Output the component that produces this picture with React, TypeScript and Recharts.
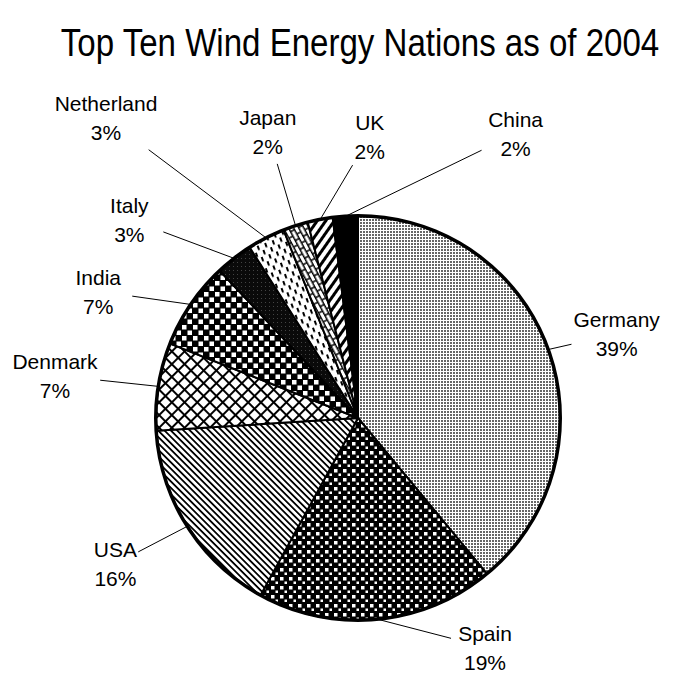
import { PieChart, Pie, Cell } from "recharts";

const countries = ["Germany", "Spain", "USA", "Denmark", "India", "Italy", "Netherland", "Japan", "UK", "China"];
const shares = [39, 19, 16, 7, 7, 3, 3, 2, 2, 2];

// label placement around the pie: polar angle (deg, ccw from 3 o'clock) and distance from centre
const labelAngle = [18, -61, -149, 172, 154, 139, 130, 107.5, 87.6, 61];
const labelRadius = [272, 262, 283, 306, 289, 303, 392, 300, 282, 325];

const patternIds = ["germany", "spain", "usa", "denmark", "india", "italy", "netherland", "japan", "uk", "china"];

const chartData = countries.map((name, i) => ({ name, value: shares[i] }));
const rim = [{ name: "rim", value: 1 }];

const FONT = "'Liberation Sans', Arial, Helvetica, sans-serif";
const RAD = Math.PI / 180;

function renderLabel(props: any) {
  const { cx, cy, midAngle, outerRadius, index, name, value } = props;
  const a = labelAngle[index] * RAD;
  const lx = cx + labelRadius[index] * Math.cos(a);
  const ly = cy - labelRadius[index] * Math.sin(a);
  const sx = cx + outerRadius * Math.cos(-midAngle * RAD);
  const sy = cy + outerRadius * Math.sin(-midAngle * RAD);
  // stop the leader at the edge of the text block
  const hw = name.length * 5.6 + 6;
  const hh = 32;
  const dx = sx - lx;
  const dy = sy - ly;
  const t = Math.min(hw / Math.max(Math.abs(dx), 1e-6), hh / Math.max(Math.abs(dy), 1e-6));
  const ex = lx + dx * t;
  const ey = ly + dy * t;
  return (
    <g>
      <line x1={sx} y1={sy} x2={ex} y2={ey} stroke="#000" strokeWidth={1} />
      <text textAnchor="middle" fontSize={21} fontFamily={FONT} fill="#000">
        <tspan x={lx} y={ly - 6.5}>{name}</tspan>
        <tspan x={lx} y={ly + 22.5}>{value}%</tspan>
      </text>
    </g>
  );
}

export default function App() {
  return (
    <div style={{ position: "absolute", left: 0, top: 0, width: 695, height: 673, background: "#fff" }}>
      <div
        style={{
          position: "absolute",
          left: 0,
          top: 21,
          width: 720,
          textAlign: "center",
          fontFamily: FONT,
          fontSize: 38,
          lineHeight: "44px",
          color: "#000",
          transform: "scaleX(0.87)",
          transformOrigin: "360px 0",
        }}
      >
        Top Ten Wind Energy Nations as of 2004
      </div>
      <PieChart width={695} height={673} margin={{ top: 0, right: 0, bottom: 0, left: 0 }}>
        <defs>
          <pattern id="germany" width={3} height={3} patternUnits="userSpaceOnUse">
            <rect width={3} height={3} fill="#fff" />
            <rect width={2} height={2} fill="#666" />
          </pattern>
          <pattern id="spain" width={9} height={9} patternUnits="userSpaceOnUse">
            <rect width={9} height={9} fill="#000" />
            <rect x={1} y={1} width={3.5} height={3.5} fill="#fff" />
            <rect x={5.5} y={5.5} width={2.5} height={2.5} fill="#fff" />
          </pattern>
          <pattern id="usa" width={4.5} height={4.5} patternUnits="userSpaceOnUse" patternTransform="rotate(-45)">
            <rect width={4.5} height={4.5} fill="#fff" />
            <rect width={1.8} height={4.5} fill="#000" />
          </pattern>
          <pattern id="denmark" width={9} height={9} patternUnits="userSpaceOnUse" patternTransform="rotate(45)">
            <rect width={9} height={9} fill="#fff" />
            <rect width={2} height={9} fill="#000" />
            <rect width={9} height={2} fill="#000" />
          </pattern>
          <pattern id="india" width={11} height={11} patternUnits="userSpaceOnUse">
            <rect width={11} height={11} fill="#000" />
            <rect x={0.5} y={0.5} width={4.5} height={4.5} fill="#fff" />
            <rect x={6} y={6} width={4.5} height={4.5} fill="#fff" />
          </pattern>
          <pattern id="italy" width={4} height={4} patternUnits="userSpaceOnUse">
            <rect width={4} height={4} fill="#0a0a0a" />
            <rect x={1} y={2} width={1} height={1} fill="#444" />
          </pattern>
          <pattern id="netherland" width={8} height={12} patternUnits="userSpaceOnUse" patternTransform="rotate(-20)">
            <rect width={8} height={12} fill="#fff" />
            <rect x={1} y={1} width={2} height={4.5} fill="#000" />
            <rect x={5} y={7} width={2} height={4.5} fill="#000" />
          </pattern>
          <pattern id="japan" width={10} height={9} patternUnits="userSpaceOnUse" patternTransform="rotate(62)">
            <rect width={10} height={9} fill="#fff" />
            <path d="M0 0.75 H10 M0 5.25 H10 M1 0.75 V5.25 M6 5.25 V9" stroke="#000" strokeWidth={1.5} fill="none" />
          </pattern>
          <pattern id="uk" width={7} height={7} patternUnits="userSpaceOnUse" patternTransform="rotate(35)">
            <rect width={7} height={7} fill="#fff" />
            <rect width={3} height={7} fill="#000" />
          </pattern>
          <pattern id="china" width={4} height={4} patternUnits="userSpaceOnUse">
            <rect width={4} height={4} fill="#000" />
          </pattern>
        </defs>
        <Pie
          data={chartData}
          dataKey="value"
          nameKey="name"
          cx={358}
          cy={418}
          outerRadius={202}
          startAngle={90}
          endAngle={-270}
          stroke="#000"
          strokeWidth={2}
          label={renderLabel}
          labelLine={false}
          isAnimationActive={false}
        >
          {chartData.map((_, i) => (
            <Cell key={`cell-${i}`} fill={`url(#${patternIds[i]})`} />
          ))}
        </Pie>
        <Pie
          data={rim}
          dataKey="value"
          cx={358}
          cy={418}
          innerRadius={200.5}
          outerRadius={204}
          startAngle={90}
          endAngle={-270}
          fill="#000"
          stroke="none"
          isAnimationActive={false}
        />
      </PieChart>
    </div>
  );
}
